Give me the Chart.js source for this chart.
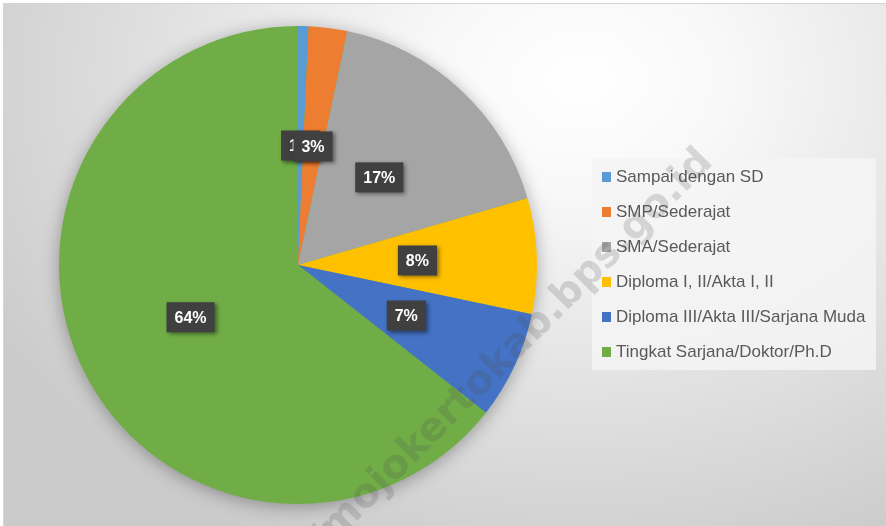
<!DOCTYPE html>
<html>
<head>
<meta charset="utf-8">
<script src="https://cdn.jsdelivr.net/npm/chart.js@4.4.1/dist/chart.umd.min.js"></script>
<style>
  html, body { margin: 0; padding: 0; background: #fff; }
  #frame {
    position: absolute; left: 3px; top: 3px; width: 900px; height: 540px;
    border-top: 1px solid #d4d4d4; border-left: 1px solid #d4d4d4;
    background: radial-gradient(ellipse 75% 95% at 64% 14%, #ffffff 0%, #f8f8f8 22%, #e3e3e3 58%, #cbcbcb 100%);
  }
  #box { position: absolute; left: 0; top: 0; width: 886px; height: 526px; }
</style>
</head>
<body>
<div id="frame"></div>
<div id="box"><canvas id="chart"></canvas></div>
<script>
const categories = [
  "Sampai dengan SD",
  "SMP/Sederajat",
  "SMA/Sederajat",
  "Diploma I, II/Akta I, II",
  "Diploma III/Akta III/Sarjana Muda",
  "Tingkat Sarjana/Doktor/Ph.D",
];
const shares = [0.7, 2.6, 17.2, 7.8, 7.3, 64.4];
const colors = ["#5B9BD5", "#ED7D31", "#A5A5A5", "#FFC000", "#4472C4", "#70AD47"];
const watermark = "https://mojokertokab.bps.go.id";

// soft shadow under the whole pie
const pieShadow = {
  id: "pieShadow",
  beforeDatasetsDraw(chart) {
    const arc = chart.getDatasetMeta(0).data[0];
    if (!arc) return;
    const ctx = chart.ctx;
    ctx.save();
    ctx.shadowColor = "rgba(0,0,0,0.35)";
    ctx.shadowBlur = 18;
    ctx.shadowOffsetY = 3;
    ctx.fillStyle = "#70AD47";
    ctx.beginPath();
    ctx.arc(arc.x, arc.y, arc.outerRadius - 1, 0, Math.PI * 2);
    ctx.fill();
    ctx.restore();
  },
};

// dark label boxes with percentages
const pctLabels = {
  id: "pctLabels",
  afterDatasetsDraw(chart) {
    const ctx = chart.ctx;
    const data = chart.data.datasets[0].data;
    const total = data.reduce((a, b) => a + b, 0);
    ctx.save();
    ctx.font = "bold 16px 'Liberation Sans', Arial, sans-serif";
    ctx.textAlign = "center";
    ctx.textBaseline = "middle";
    chart.getDatasetMeta(0).data.forEach((arc, i) => {
      const p = arc.tooltipPosition();
      const txt = Math.round(data[i] / total * 100) + "%";
      const w = ctx.measureText(txt).width + 16;
      const h = 30;
      ctx.shadowColor = "rgba(0,0,0,0.45)";
      ctx.shadowBlur = 4;
      ctx.shadowOffsetX = 2;
      ctx.shadowOffsetY = 2;
      ctx.fillStyle = "#404040";
      ctx.fillRect(p.x - w / 2, p.y - h / 2, w, h);
      ctx.shadowColor = "transparent";
      ctx.fillStyle = "#ffffff";
      ctx.fillText(txt, p.x, p.y + 1);
    });
    ctx.restore();
  },
};

// legend box on the right
const sideLegend = {
  id: "sideLegend",
  afterDraw(chart) {
    const ctx = chart.ctx;
    const ds = chart.data.datasets[0];
    ctx.save();
    ctx.fillStyle = "rgba(244,244,244,0.85)";
    ctx.fillRect(592, 158, 284, 212);
    ctx.font = "17px 'Liberation Sans', Arial, sans-serif";
    ctx.textBaseline = "middle";
    chart.data.labels.forEach((lab, i) => {
      const y = 177 + i * 35;
      ctx.fillStyle = ds.backgroundColor[i];
      ctx.fillRect(602, y - 5, 9, 10);
      ctx.fillStyle = "#595959";
      ctx.fillText(lab, 616, y);
    });
    ctx.restore();
  },
};

const wmark = {
  id: "wmark",
  afterDraw(chart) {
    const ctx = chart.ctx;
    ctx.save();
    ctx.translate(707, 156);
    ctx.rotate(-45 * Math.PI / 180);
    ctx.font = "bold 40px 'DejaVu Sans', sans-serif";
    ctx.textAlign = "right";
    ctx.textBaseline = "middle";
    ctx.fillStyle = "rgba(80,80,80,0.2)";
    ctx.fillText(watermark, 0, 0);
    ctx.restore();
  },
};

new Chart(document.getElementById("chart"), {
  type: "pie",
  data: {
    labels: categories,
    datasets: [{
      data: shares,
      backgroundColor: colors,
      borderWidth: 0,
    }],
  },
  options: {
    responsive: true,
    maintainAspectRatio: false,
    animation: false,
    layout: { padding: { left: 0, right: 290, top: 26, bottom: 22 } },
    plugins: {
      legend: { display: false },
      tooltip: { enabled: false },
    },
  },
  plugins: [pieShadow, pctLabels, sideLegend, wmark],
});
</script>
</body>
</html>
